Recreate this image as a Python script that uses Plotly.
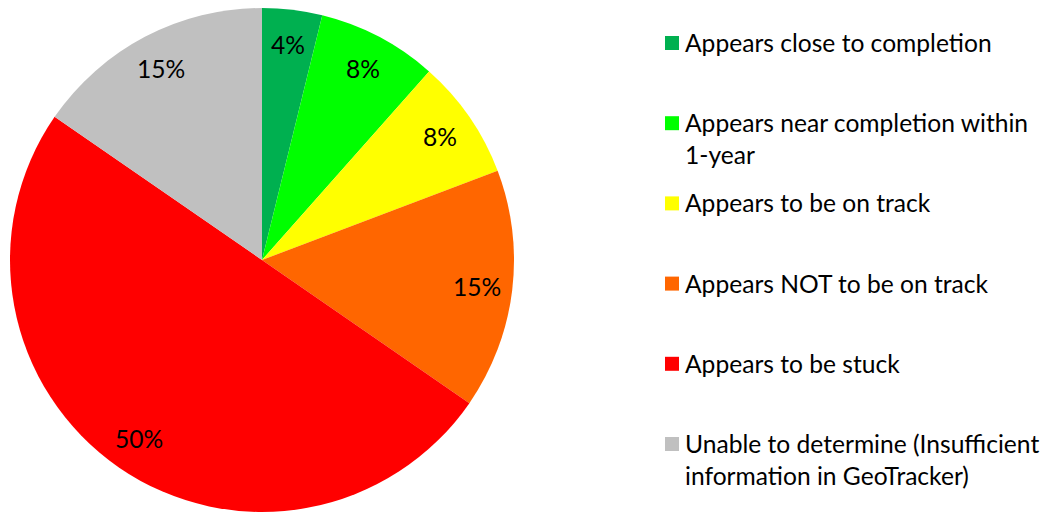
import math
import plotly.graph_objects as go

# ---- data ----
categories = [
    "Appears close to completion",
    "Appears near completion within<br>1-year",
    "Appears to be on track",
    "Appears NOT to be on track",
    "Appears to be stuck",
    "Unable to determine (Insufficient<br>information in GeoTracker)",
]
counts = [1, 2, 2, 4, 13, 4]
colors = ["#00B050", "#00FF00", "#FFFF00", "#FF6600", "#FF0000", "#C0C0C0"]

# ---- layout constants (pixels, page coordinates; page body has 8px margin) ----
W, H = 1056, 512
OFF = 8
R = 252
cx, cy = 262 - OFF, R
label_r = 0.86 * R
FONT = "Lato, Carlito, Calibri, sans-serif"
FS = 24.6

fig = go.Figure()
fig.add_trace(go.Pie(
    labels=[c.replace("<br>", " ") for c in categories],
    values=counts,
    marker=dict(colors=colors, line=dict(width=0)),
    sort=False,
    direction="clockwise",
    rotation=0,
    textinfo="none",
    hoverinfo="label+percent",
    showlegend=False,
    domain=dict(x=[(cx - R) / W, (cx + R) / W],
                y=[max(0, 1 - (cy + R) / H), min(1, 1 - (cy - R) / H)]),
))

annotations = []
shapes = []
total = sum(counts)
cum = 0
for v in counts:
    mid = (cum + v / 2) / total * 2 * math.pi
    cum += v
    xp = cx + label_r * math.sin(mid)
    yp = cy - label_r * math.cos(mid)
    annotations.append(dict(
        x=xp / W, y=1 - yp / H, xref="paper", yref="paper",
        text=f"{round(100 * v / total)}%", showarrow=False,
        xanchor="center", yanchor="middle",
        font=dict(family=FONT, size=FS, color="black"),
    ))

# ---- custom legend ----
leg_y0, leg_step = 43 - OFF, 80.2
sq_x0, sq = 665 - OFF, 14
text_x = 684 - OFF
for i, (lab, col) in enumerate(zip(categories, colors)):
    yc = leg_y0 + i * leg_step
    shapes.append(dict(
        type="rect", xref="paper", yref="paper",
        x0=sq_x0 / W, x1=(sq_x0 + sq) / W,
        y0=1 - (yc + sq / 2) / H, y1=1 - (yc - sq / 2) / H,
        fillcolor=col, line=dict(width=0),
    ))
    annotations.append(dict(
        x=text_x / W, y=1 - (yc - 16) / H, xref="paper", yref="paper",
        text=lab, showarrow=False, align="left",
        xanchor="left", yanchor="top", borderpad=0,
        font=dict(family=FONT, size=FS, color="black"),
    ))

fig.update_layout(
    width=W, height=H,
    margin=dict(l=0, r=0, t=0, b=0),
    paper_bgcolor="white", plot_bgcolor="white",
    annotations=annotations, shapes=shapes,
    showlegend=False,
)
fig.write_html("out.html")
